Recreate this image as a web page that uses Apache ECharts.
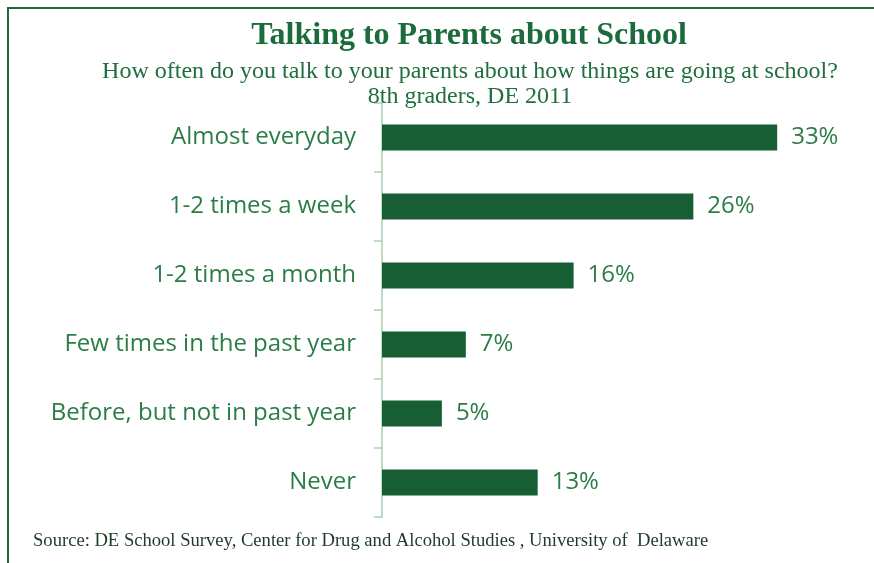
<!DOCTYPE html>
<html>
<head>
<meta charset="utf-8">
<script src="https://cdn.jsdelivr.net/npm/echarts@6/dist/echarts.min.js"></script>
<style>
  html, body { margin: 0; padding: 0; background: #ffffff; }
  #chart { width: 874px; height: 563px; }
</style>
</head>
<body>
<div id="chart"></div>
<script>
// Survey responses, top to bottom
const categories = [
  'Almost everyday',
  '1-2 times a week',
  '1-2 times a month',
  'Few times in the past year',
  'Before, but not in past year',
  'Never'
];
const percentages = [33, 26, 16, 7, 5, 13];

const titleText = 'Talking to Parents about School';
const subtitleLines = [
  'How often do you talk to your parents about how things are going at school?',
  '8th graders, DE 2011'
];
const sourceText = 'Source: DE School Survey, Center for Drug and Alcohol Studies , University of  Delaware';

const barColor = '#175e34';
const textColor = '#2b7d46';
const labelFont = '"Open Sans", Lato, sans-serif';

const chart = echarts.init(document.getElementById('chart'), null, { renderer: 'canvas' });

chart.setOption({
  animation: false,
  backgroundColor: '#ffffff',
  title: [
    {
      text: titleText,
      left: 464, top: 15, textAlign: 'center',
      textStyle: { fontFamily: '"Liberation Serif", serif', fontWeight: 'bold', fontSize: 32, color: '#1b6b3c' }
    },
    {
      text: subtitleLines.join('\n'),
      left: 465, top: 54, textAlign: 'center',
      textStyle: { fontFamily: '"Liberation Serif", serif', fontWeight: 'normal', fontSize: 24, lineHeight: 25, color: '#1f6e3e' }
    },
    {
      text: sourceText,
      left: 28, top: 527,
      textStyle: { fontFamily: '"Liberation Serif", serif', fontWeight: 'normal', fontSize: 18.6, color: '#1d3b29' }
    }
  ],
  graphic: [
    { type: 'line', shape: { x1: 7, y1: 8, x2: 874, y2: 8 }, style: { stroke: '#1d6a3d', lineWidth: 2 } },
    { type: 'line', shape: { x1: 8, y1: 7, x2: 8, y2: 563 }, style: { stroke: '#1d6a3d', lineWidth: 2 } }
  ],
  grid: { left: 382, right: 13, top: 103, height: 414, containLabel: false },
  xAxis: {
    type: 'value', min: 0, max: 40,
    show: false
  },
  yAxis: {
    type: 'category',
    inverse: true,
    data: categories,
    axisLine: { show: true, lineStyle: { color: '#a9cfb2', width: 1.5 } },
    axisTick: { show: true, length: 8, lineStyle: { color: '#a9cfb2', width: 1.5 } },
    axisLabel: { color: textColor, fontFamily: labelFont, fontSize: 24, margin: 26, padding: [3, 0, 0, 0] }
  },
  series: [{
    type: 'bar',
    data: percentages,
    barWidth: 26,
    itemStyle: { color: barColor },
    label: {
      show: true, position: 'right', distance: 14,
      formatter: p => p.value + '%',
      color: textColor, fontFamily: labelFont, fontSize: 24
    }
  }]
});
</script>
</body>
</html>
